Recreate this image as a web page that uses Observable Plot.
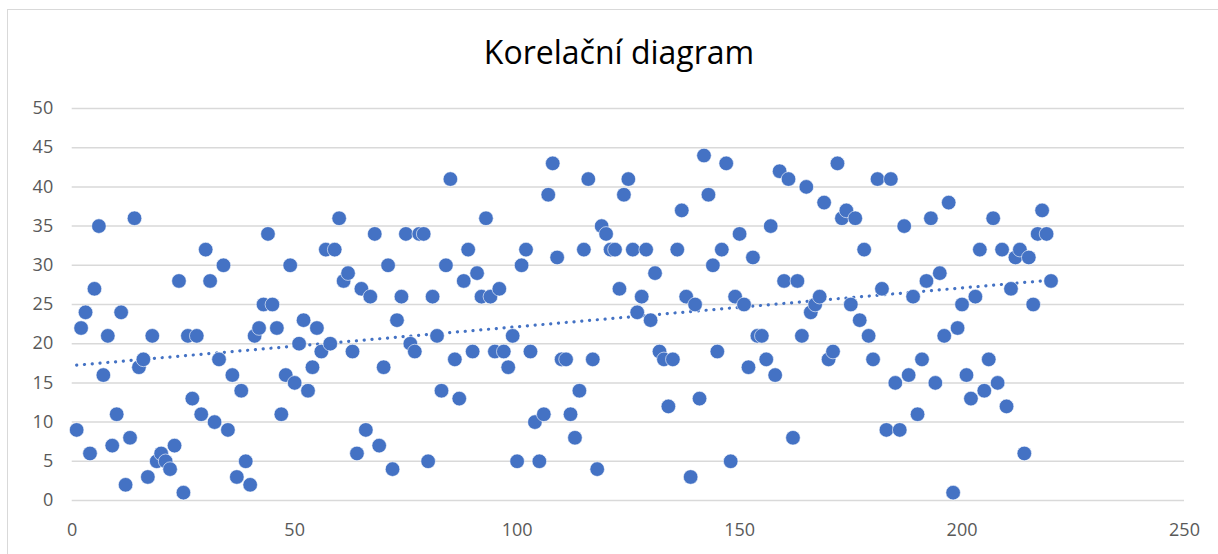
<!DOCTYPE html>
<html>
<head>
<meta charset="utf-8">
<script src="https://cdn.jsdelivr.net/npm/d3@7"></script>
<script src="https://cdn.jsdelivr.net/npm/@observablehq/plot@0.6"></script>
<style>
  html, body { margin: 0; padding: 0; background: #fff; }
  body { width: 1218px; height: 554px; overflow: hidden; position: relative; font-family: "Open Sans", sans-serif; }
  #frame { position: absolute; left: 7px; top: 9px; width: 1400px; height: 800px; border: 1.5px solid #d9d9d9; box-sizing: border-box; }
  #title { position: absolute; left: 10px; top: 0; width: 1218px; height: 90px; display: flex; align-items: center; justify-content: center; font-size: 32px; color: #000; padding-top: 12px; box-sizing: border-box; }
  #chart { position: absolute; left: 0; top: 90px; }
</style>
</head>
<body>
<div id="frame"></div>
<div id="title">Korelační diagram</div>
<div id="chart"></div>
<script>
const xValues = [
  1,2,3,4,5,6,7,8,9,10,11,12,13,14,15,16,17,18,19,20,
  21,22,23,24,25,26,27,28,29,30,31,32,33,34,35,36,37,38,39,40,
  41,42,43,44,45,46,47,48,49,50,51,52,53,54,55,56,57,58,59,60,
  61,62,63,64,65,66,67,68,69,70,71,72,73,74,75,76,77,78,79,80,
  81,82,83,84,85,86,87,88,89,90,91,92,93,94,95,96,97,98,99,100,
  101,102,103,104,105,106,107,108,109,110,111,112,113,114,115,116,117,118,119,120,
  121,122,123,124,125,126,127,128,129,130,131,132,133,134,135,136,137,138,139,140,
  141,142,143,144,145,146,147,148,149,150,151,152,153,154,155,156,157,158,159,160,
  161,162,163,164,165,166,167,168,169,170,171,172,173,174,175,176,177,178,179,180,
  181,182,183,184,185,186,187,188,189,190,191,192,193,194,195,196,197,198,199,200,
  201,202,203,204,205,206,207,208,209,210,211,212,213,214,215,216,217,218,219,220
];
const yValues = [
  9,22,24,6,27,35,16,21,7,11, 24,2,8,36,17,18,3,21,5,6,
  5,4,7,28,1,21,13,21,11,32, 28,10,18,30,9,16,3,14,5,2,
  21,22,25,34,25,22,11,16,30,15, 20,23,14,17,22,19,32,20,32,36,
  28,29,19,6,27,9,26,34,7,17, 30,4,23,26,34,20,19,34,34,5,
  26,21,14,30,41,18,13,28,32,19, 29,26,36,26,19,27,19,17,21,5,
  30,32,19,10,5,11,39,43,31,18, 18,11,8,14,32,41,18,4,35,34,
  32,32,27,39,41,32,24,26,32,23, 29,19,18,12,18,32,37,26,3,25,
  13,44,39,30,19,32,43,5,26,34, 25,17,31,21,21,18,35,16,42,28,
  41,8,28,21,40,24,25,26,38,18, 19,43,36,37,25,36,23,32,21,18,
  41,27,9,41,15,9,35,16,26,11, 18,28,36,15,29,21,38,1,22,25,
  16,13,26,32,14,18,36,15,32,12, 27,31,32,6,31,25,34,37,34,28
];
const xTicks = [0, 50, 100, 150, 200, 250];
const yTicks = [0, 5, 10, 15, 20, 25, 30, 35, 40, 45, 50];

const data = xValues.map((x, i) => ({x, y: yValues[i]}));
const blue = "#4472C4";

const chart = Plot.plot({
  width: 1218,
  height: 464,
  marginLeft: 71.7,
  marginRight: 34,
  marginTop: 18,
  marginBottom: 54,
  style: { fontFamily: "Open Sans, sans-serif", fontSize: "18px", color: "#595959", background: "transparent" },
  x: { domain: [0, 250], label: null },
  y: { domain: [0, 50], label: null },
  marks: [
    Plot.gridY(yTicks, { stroke: "#d9d9d9", strokeOpacity: 1, strokeWidth: 1.5 }),
    Plot.axisY(yTicks, { tickSize: 0, tickPadding: 19, fill: "#595959", fontSize: 18, label: null }),
    Plot.axisX(xTicks, { tickSize: 0, tickPadding: 23, fill: "#595959", fontSize: 18, label: null }),
    Plot.linearRegressionY(data, { x: "x", y: "y", ci: 0, stroke: blue, strokeWidth: 3.2, strokeDasharray: "0.1 7.7", strokeLinecap: "round" }),
    Plot.dot(data, { x: "x", y: "y", r: 7.3, fill: blue, stroke: "#ffffff", strokeWidth: 0.6 })
  ]
});
document.getElementById("chart").appendChild(chart);
</script>
</body>
</html>
